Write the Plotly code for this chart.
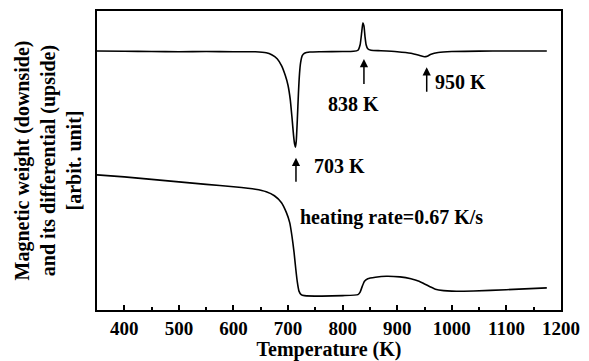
import plotly.graph_objects as go

# Differential curve (upper), temperature in K and signal in arbitrary units
dtg_T = [350, 400, 450, 500, 550, 600, 640, 660, 670, 680, 688, 695, 700, 704, 707, 710, 712, 713.5,
         715, 717, 719, 721, 723, 726, 730, 740, 760, 800, 820, 828, 832, 835, 837, 839, 841,
         843, 846, 852, 870, 900, 925, 940, 950, 955, 962, 975, 1000, 1050, 1100, 1174]
dtg_pix = [49.3, 49.5, 49.8, 50.0, 49.8, 50.0, 50.0, 51.0, 53.0, 57.0, 64, 74, 84, 98, 115, 134, 143, 146,
           140, 118, 92, 72, 61, 54, 51.5, 50.3, 50, 49.8, 49.5, 48.5, 43, 30, 21, 24, 35,
           43, 47, 48.5, 49, 50, 51.5, 53.5, 55, 54.5, 52.5, 50.8, 49.8, 49.4, 49.3, 49.3]
dtg_val = [310 - p for p in dtg_pix]

# Magnetic weight curve (lower)
tg_T = [350, 400, 450, 500, 550, 600, 640, 660, 675, 688, 697, 703, 707, 711, 714, 717, 720, 724,
        730, 760, 800, 828, 832, 836, 840, 846, 860, 880, 905, 925, 940, 950, 960, 970, 985,
        1000, 1040, 1100, 1174]
tg_pix = [174, 176, 178.5, 181, 183.5, 186, 188.5, 191, 195, 202, 212, 222, 235, 252, 268, 282, 291, 294.5,
          295.5, 296, 295.5, 294.5, 292, 286, 281, 278.5, 277, 276, 276.7, 278.5, 281, 283.8, 286.5, 289, 290.5,
          291, 290.8, 289.6, 287.7]
tg_val = [310 - p for p in tg_pix]

# Annotated transitions: label, arrow x (K), arrow tip / tail (arb.)
labels = ["703 K", "838 K", "950 K"]
arrow_T = [714.5, 839, 954]
arrow_tip = [310 - 156.7, 310 - 57.3, 310 - 65.7]
arrow_tail = [310 - 182.3, 310 - 84, 310 - 91.7]
label_T = [743, 819, 966]
label_y = [145, 207, 230]
label_anchor = ["left", "center", "left"]
note_text = "heating rate=0.67 K/s"

FONT = "Liberation Serif, Times New Roman, serif"

fig = go.Figure()
for xs, ys in ((dtg_T, dtg_val), (tg_T, tg_val)):
    fig.add_trace(go.Scatter(x=xs, y=ys, mode="lines",
                             line=dict(color="black", width=1.6, shape="spline", smoothing=0.5),
                             showlegend=False))

annotations = []
for lab, xt, tip, tail, lx, ly, anc in zip(labels, arrow_T, arrow_tip, arrow_tail,
                                            label_T, label_y, label_anchor):
    annotations.append(dict(x=xt, y=tip, ax=xt, ay=tail, xref="x", yref="y",
                            axref="x", ayref="y", text="", showarrow=True,
                            arrowhead=2, arrowsize=1.1, arrowwidth=1.5, arrowcolor="black"))
    annotations.append(dict(x=lx, y=ly, xref="x", yref="y", text=lab, showarrow=False,
                            xanchor=anc, yanchor="middle",
                            font=dict(family=FONT, size=20, color="black", weight="bold")))
annotations.append(dict(x=718.7, y=93, xref="x", yref="y", text=note_text, showarrow=False,
                        xanchor="left", yanchor="middle",
                        font=dict(family=FONT, size=20, color="black", weight="bold")))

# page body has an 8px margin: offset the figure so the plot lands where the reference has it
fig.update_layout(
    width=581, height=353,
    margin=dict(l=89, r=28, t=1, b=51),
    paper_bgcolor="white", plot_bgcolor="white",
    font=dict(family=FONT, size=19, color="black", weight="bold"),
    annotations=annotations,
    xaxis=dict(range=[350, 1200], tickvals=[400, 500, 600, 700, 800, 900, 1000, 1100, 1200],
               ticks="inside", ticklen=5, tickwidth=1.5, tickcolor="black",
               minor=dict(ticks="inside", ticklen=3, tickwidth=1.5, tickcolor="black", dtick=50, tick0=350),
               showline=True, linecolor="black", linewidth=2, mirror=True,
               showgrid=False, zeroline=False,
               tickfont=dict(family=FONT, size=19, color="black", weight="bold"),
               title=dict(text="Temperature (K)", standoff=7,
                          font=dict(family=FONT, size=20, color="black", weight="bold"))),
    yaxis=dict(range=[0, 301], showticklabels=False, ticks="",
               showline=True, linecolor="black", linewidth=2, mirror=True,
               showgrid=False, zeroline=False,
               title=dict(text="Magnetic weight (downside)<br>and its differential (upside)<br>[arbit. unit]",
                          standoff=8,
                          font=dict(family=FONT, size=20, color="black", weight="bold"))),
)

fig.write_html("out.html")
